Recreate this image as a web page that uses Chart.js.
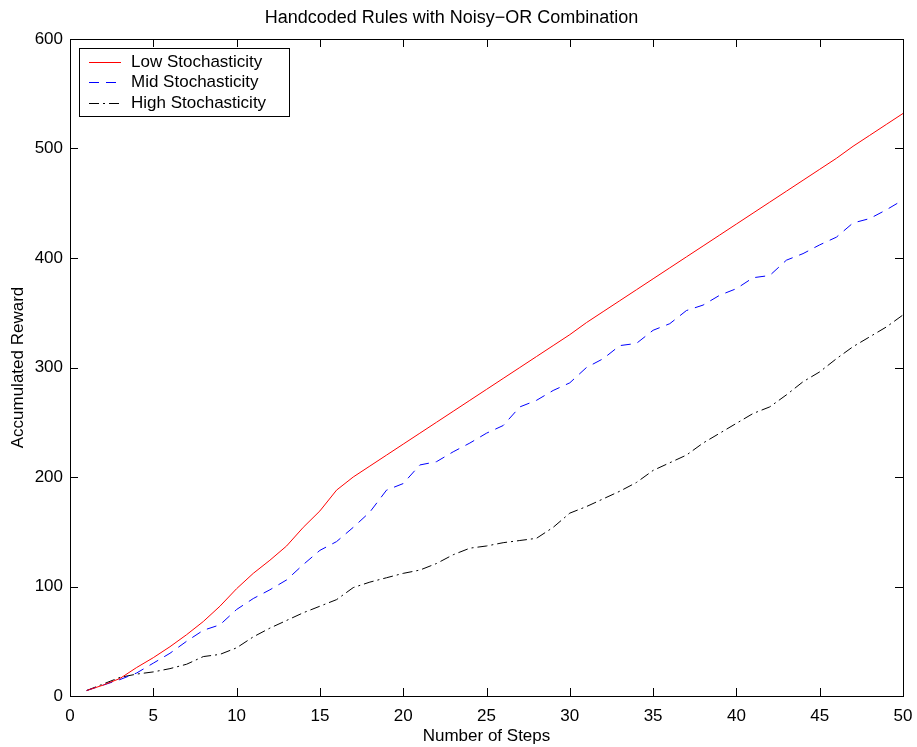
<!DOCTYPE html>
<html>
<head>
<meta charset="utf-8">
<script src="https://cdn.jsdelivr.net/npm/chart.js@4.4.1/dist/chart.umd.min.js"></script>
<style>
  html, body { margin: 0; padding: 0; background: #fff; }
  #wrap { width: 917px; height: 747px; }
</style>
</head>
<body>
<div id="wrap"><canvas id="rewardChart"></canvas></div>
<script>
// Data
const steps = [1, 2, 3, 4, 5, 6, 7, 8, 9, 10, 11, 12, 13, 14, 15, 16, 17, 18, 19, 20,
    21, 22, 23, 24, 25, 26, 27, 28, 29, 30, 31, 32, 33, 34, 35, 36, 37, 38, 39, 40,
    41, 42, 43, 44, 45, 46, 47, 48, 49, 50];

const lowStoch = [5, 10, 16, 26, 35, 45, 56, 68, 82, 98, 112, 124, 137, 154, 169, 188, 200, 210, 220, 230,
    240, 250, 260, 270, 280, 290, 300, 310, 320, 330, 341, 351, 361, 371, 381, 391, 401, 411, 421, 431,
    441, 451, 461, 471, 481, 491, 502, 512, 522, 532];

const midStoch = [5, 10, 15, 21, 30, 39, 50, 60, 65, 79, 89, 97, 106, 120, 133, 141, 154, 168, 188, 194,
    211, 214, 223, 231, 240, 247, 264, 270, 279, 286, 300, 308, 320, 322, 334, 340, 352, 357, 366, 372,
    382, 384, 398, 404, 412, 419, 432, 436, 444, 453];

const highStoch = [5, 11, 17, 20, 22, 25, 29, 36, 38, 44, 54, 62, 69, 76, 82, 88, 99, 104, 108, 112,
    115, 121, 129, 135, 137, 140, 142, 144, 154, 167, 173, 180, 187, 195, 206, 213, 220, 231, 240, 249,
    258, 264, 275, 287, 296, 308, 319, 328, 337, 348];

const xTicks = [0, 5, 10, 15, 20, 25, 30, 35, 40, 45, 50];
const yTicks = [0, 100, 200, 300, 400, 500, 600];

const FONT = "'Liberation Sans', Arial, Helvetica, sans-serif";

function toPoints(values) {
    return steps.map((s, i) => ({ x: s, y: values[i] }));
}

// MATLAB style box with inward ticks on all four sides
const boxFrame = {
    id: 'boxFrame',
    afterDraw(chart) {
        const { ctx, chartArea: a, scales } = chart;
        const len = 8;
        ctx.save();
        ctx.strokeStyle = '#000';
        ctx.lineWidth = 1;
        ctx.beginPath();
        xTicks.forEach(v => {
            const px = Math.round(scales.x.getPixelForValue(v)) + 0.5;
            ctx.moveTo(px, a.bottom); ctx.lineTo(px, a.bottom - len);
            ctx.moveTo(px, a.top); ctx.lineTo(px, a.top + len);
        });
        yTicks.forEach(v => {
            const py = Math.round(scales.y.getPixelForValue(v)) + 0.5;
            ctx.moveTo(a.left, py); ctx.lineTo(a.left + len, py);
            ctx.moveTo(a.right, py); ctx.lineTo(a.right - len, py);
        });
        ctx.stroke();
        ctx.strokeRect(Math.round(a.left) + 0.5, Math.round(a.top) + 0.5,
            Math.round(a.right - a.left), Math.round(a.bottom - a.top));
        ctx.restore();

        // legend box, top-left inside the axes
        const lx = a.left + 9, ly = a.top + 9, lw = 210, lh = 68;
        ctx.save();
        ctx.fillStyle = '#fff';
        ctx.fillRect(lx, ly, lw, lh);
        ctx.strokeStyle = '#000';
        ctx.lineWidth = 1;
        ctx.strokeRect(Math.round(lx) + 0.5, Math.round(ly) + 0.5, lw, lh);
        ctx.font = '17px ' + FONT;
        ctx.textBaseline = 'middle';
        chart.data.datasets.forEach((ds, i) => {
            const y = Math.round(ly + 13.5 + i * 20.8) + 0.5;
            ctx.strokeStyle = ds.borderColor;
            ctx.lineWidth = ds.borderWidth;
            ctx.setLineDash(ds.borderDash || []);
            ctx.beginPath();
            ctx.moveTo(lx + 10, y);
            ctx.lineTo(lx + 42, y);
            ctx.stroke();
            ctx.setLineDash([]);
            ctx.fillStyle = '#000';
            ctx.fillText(ds.label, lx + 52, y);
        });
        ctx.restore();
    }
};

new Chart(document.getElementById('rewardChart'), {
    type: 'line',
    data: {
        datasets: [
            {
                label: 'Low Stochasticity',
                data: toPoints(lowStoch),
                borderColor: '#ff0000',
                borderWidth: 1,
                pointRadius: 0,
                tension: 0
            },
            {
                label: 'Mid Stochasticity',
                data: toPoints(midStoch),
                borderColor: '#0000ff',
                borderWidth: 1,
                borderDash: [10, 7],
                pointRadius: 0,
                tension: 0
            },
            {
                label: 'High Stochasticity',
                data: toPoints(highStoch),
                borderColor: '#000000',
                borderWidth: 1,
                borderDash: [10, 4, 2, 4],
                pointRadius: 0,
                tension: 0
            }
        ]
    },
    options: {
        responsive: true,
        maintainAspectRatio: false,
        animation: false,
        layout: { padding: { left: 0, right: 14, top: 0, bottom: 0 } },
        plugins: {
            legend: { display: false },
            tooltip: { enabled: false },
            title: {
                display: true,
                text: 'Handcoded Rules with Noisy\u2212OR Combination',
                color: '#000',
                font: { family: FONT, size: 18, weight: 'normal' },
                padding: { top: 7, bottom: 10.4 }
            }
        },
        scales: {
            x: {
                type: 'linear',
                min: 0,
                max: 50,
                afterBuildTicks: (scale) => { scale.ticks = xTicks.map(v => ({ value: v })); },
                afterFit: (scale) => {
                    scale.height = 51;
                    scale.paddingLeft = 0;
                    scale.paddingRight = 0;
                },
                grid: { display: false, drawTicks: false },
                border: { display: false },
                ticks: { color: '#000', padding: 10, maxRotation: 0, font: { family: FONT, size: 17 } },
                title: {
                    display: true,
                    text: 'Number of Steps',
                    color: '#000',
                    font: { family: FONT, size: 17 },
                    padding: { top: 0, bottom: 0 }
                }
            },
            y: {
                min: 0,
                max: 600,
                afterBuildTicks: (scale) => { scale.ticks = yTicks.map(v => ({ value: v })); },
                afterFit: (scale) => {
                    scale.width = 70;
                    scale.paddingTop = 0;
                    scale.paddingBottom = 0;
                },
                grid: { display: false, drawTicks: false },
                border: { display: false },
                ticks: { color: '#000', padding: 7, font: { family: FONT, size: 17 } },
                title: {
                    display: true,
                    text: 'Accumulated Reward',
                    color: '#000',
                    font: { family: FONT, size: 17 },
                    padding: { top: 8, bottom: 0 }
                }
            }
        }
    },
    plugins: [boxFrame]
});
</script>
</body>
</html>
